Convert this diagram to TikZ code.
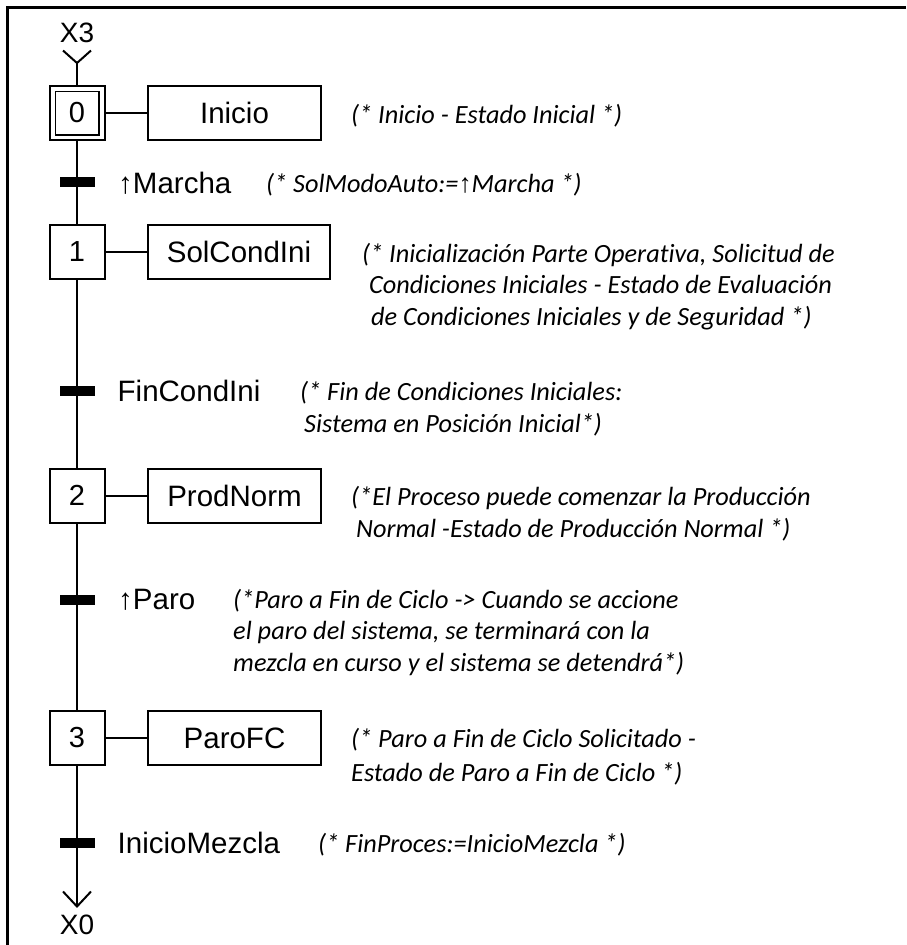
\documentclass[tikz,border=0pt]{standalone}
\usepackage{fontspec}
\setmainfont{Liberation Sans}
\newfontfamily\cmtfont[Ligatures=NoCommon]{Carlito}
\newfontfamily\arrfont{Liberation Sans}
\usetikzlibrary{calc}
\tikzset{
  conn/.style={line width=2pt},
  stepbox/.style={draw, line width=2pt, minimum width=55pt, minimum height=54pt, inner sep=0pt, font=\fontsize{29}{34}\selectfont},
  stepinner/.style={draw, line width=1.5pt, minimum width=43.5pt, minimum height=43.5pt, inner sep=0pt},
  actbox/.style={draw, line width=2pt, minimum width=173pt, minimum height=54pt, inner sep=0pt, font=\fontsize{29.5}{34}\selectfont},
  trbar/.style={fill=black, minimum width=35pt, minimum height=10pt, inner sep=0pt},
  trlabel/.style={anchor=base west, inner sep=0pt, font=\fontsize{29.5}{34}\selectfont},
  reflabel/.style={anchor=base, inner sep=0pt, font=\fontsize{28}{34}\selectfont},
  cmt/.style={anchor=base west, inner sep=0pt, align=left, font={\cmtfont\itshape\fontsize{26.3}{31.5}\selectfont}},
}
\begin{document}
\begin{tikzpicture}[x=1pt,y=-1pt]
\useasboundingbox (0,0) rectangle (906,945);
% frame
\draw[line width=2.5pt] (7.5,945) -- (7.5,7.5) -- (906,7.5);

% steps
\node[stepbox] (s0) at (77,113) {0};
\node[stepinner] (s0i) at (77,113) {};
\node[stepbox] (s1) at (77,251.5) {1};
\node[stepbox] (s2) at (77,495.5) {2};
\node[stepbox] (s3) at (77,738) {3};

% actions
\node[actbox] (a0) at (234.5,113) {Inicio};
\node[actbox, minimum width=182pt] (a1) at (239,251.5) {SolCondIni};
\node[actbox] (a2) at (234.5,495.5) {ProdNorm};
\node[actbox] (a3) at (234.5,738) {ParoFC};

\draw[conn] (s0.east) -- (a0.west);
\draw[conn] (s1.east) -- (a1.west);
\draw[conn] (s2.east) -- (a2.west);
\draw[conn] (s3.east) -- (a3.west);

% transitions
\node[trbar] (t0) at (77,182) {};
\node[trbar] (t1) at (77,391) {};
\node[trbar] (t2) at (77,600) {};
\node[trbar] (t3) at (77,843) {};

% in / out references
\node[reflabel] (x3) at (77,42.7) {X3};
\node[reflabel] (x0) at (77,934) {X0};
\coordinate (in3) at (77,63);
\coordinate (out0) at (77,906.5);

\draw[conn] ($(in3)+(-14,-12.5)$) -- (in3) -- ($(in3)+(14,-12.5)$);
\draw[conn] (in3) -- (s0.north);
\draw[conn] (s0.south) -- (t0) -- (s1.north);
\draw[conn] (s1.south) -- (t1) -- (s2.north);
\draw[conn] (s2.south) -- (t2) -- (s3.north);
\draw[conn] (s3.south) -- (t3) -- (out0);
\draw[conn] ($(out0)+(-14,-15)$) -- (out0) -- ($(out0)+(14,-15)$);

% transition labels
\node[trlabel] (l0) at (118,193) {↑Marcha};
\node[trlabel] (l1) at (117.5,401) {FinCondIni};
\node[trlabel] (l2) at (118,609) {↑Paro};
\node[trlabel] (l3) at (117.5,853) {InicioMezcla};

% comments (multi-line: base = last line)
\node[cmt] (c0) at (351,123.5) {(* Inicio - Estado Inicial *)};
\node[cmt] (c1) at (266,192) {(* SolModoAuto:={\arrfont\upshape ↑}Marcha *)};
\node[cmt] (c2) at (362,325) {(* Inicialización Parte Operativa, Solicitud de\\
\hspace*{7pt}Condiciones Iniciales - Estado de Evaluación\\
\hspace*{9pt}de Condiciones Iniciales y de Seguridad *)};
\node[cmt] (c3) at (300,432) {(* Fin de Condiciones Iniciales:\\
\hspace*{4pt}Sistema en Posición Inicial*)};
\node[cmt] (c4) at (351,537) {(*El Proceso puede comenzar la Producción\\
\hspace*{5pt}Normal -Estado de Producción Normal *)};
\node[cmt] (c5) at (233,671) {(*Paro a Fin de Ciclo -> Cuando se accione\\
el paro del sistema, se terminará con la\\
mezcla en curso y el sistema se detendrá*)};
\node[cmt, font={\cmtfont\itshape\fontsize{26.3}{34}\selectfont}] (c6) at (351,781) {(* Paro a Fin de Ciclo Solicitado -\\
Estado de Paro a Fin de Ciclo *)};
\node[cmt] (c7) at (318,852) {(* FinProces:=InicioMezcla *)};
\end{tikzpicture}
\end{document}
